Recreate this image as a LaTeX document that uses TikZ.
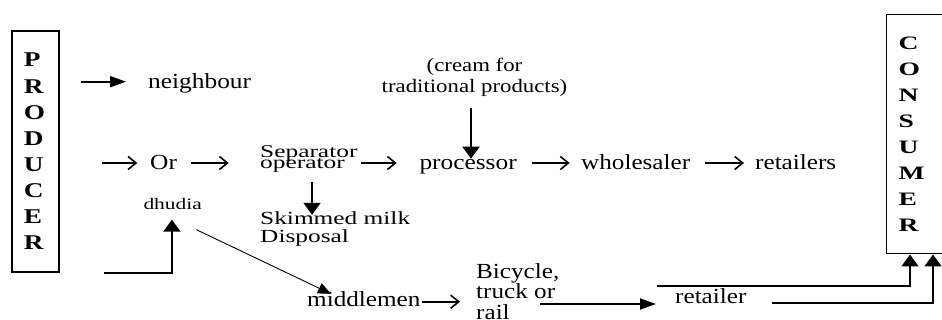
\documentclass[tikz,border=0pt]{standalone}
\usepackage{graphicx}
\usepackage{fontspec}
\setmainfont{Liberation Serif}
\usetikzlibrary{arrows.meta}
\newcommand{\wide}[2]{\scalebox{#1}[1]{#2}}
\newcommand{\tightlines}{\lineskiplimit=-30pt\relax\lineskip=0pt\relax}
\tikzset{
  big/.style={font=\fontsize{21.5}{21.5}\selectfont, inner sep=0pt, anchor=base west},
  fh/.style={line width=2pt, -{Triangle[length=16pt,width=11pt]}},
  fv/.style={line width=2pt, -{Triangle[length=12pt,width=17pt]}},
  fthin/.style={line width=0.9pt, -{Triangle[length=13pt,width=11pt]}},
  ga/.style={line width=1.6pt, -{Straight Barb[length=8pt,width=13pt]}},
  lettersbox/.style={anchor=north west, align=left, inner ysep=0pt}
}
\begin{document}
\begin{tikzpicture}[x=1pt,y=-1pt]
\useasboundingbox (0,0) rectangle (942,320);

% boxes
\node[lettersbox, draw, line width=1.8pt, minimum width=47pt, minimum height=241pt,
      text width=23pt, inner xsep=12pt,
      font=\bfseries\fontsize{21}{26.1}\selectfont] (prod) at (11,30)
  {\wide{1.3}{P}\\\wide{1.3}{R}\\\wide{1.3}{O}\\\wide{1.3}{D}\\\wide{1.3}{U}\\\wide{1.3}{C}\\\wide{1.3}{E}\\\wide{1.3}{R}};
\node[lettersbox, draw, line width=1.2pt, minimum width=80pt, minimum height=239.3pt,
      text width=56pt, inner xsep=12pt,
      font=\bfseries\fontsize{19}{26.1}\selectfont] (cons) at (886,14)
  {\wide{1.45}{C}\\\wide{1.45}{O}\\\wide{1.45}{N}\\\wide{1.45}{S}\\\wide{1.45}{U}\\\wide{1.45}{M}\\\wide{1.45}{E}\\\wide{1.45}{R}};

% text nodes
\node[big] (neigh) at (148,89) {\wide{1.18}{neighbour}};
\node[big] (or) at (150,170) {\wide{1.18}{Or}};
\node[anchor=north west, inner sep=0pt, align=left,
      font=\fontsize{18}{11}\selectfont\tightlines] (sep) at (260,145.1)
  {\wide{1.41}{Separator}\\\wide{1.41}{operator}};
\node[big] (proc) at (419.3,170) {\wide{1.18}{processor}};
\node[big] (whole) at (581,170) {\wide{1.17}{wholesaler}};
\node[big] (rets) at (755,170) {\wide{1.17}{retailers}};
\node[anchor=north, inner sep=0pt, align=center,
      font=\fontsize{19}{21}\selectfont] (cream) at (474.5,57.5)
  {\wide{1.2}{(cream for}\\\wide{1.2}{traditional products)}};
\node[anchor=north west, inner sep=0pt, align=left,
      font=\fontsize{18.5}{17.5}\selectfont] (skim) at (260,211.5)
  {\wide{1.37}{Skimmed milk}\\\wide{1.37}{Disposal}};
\node[anchor=base west, inner sep=0pt, font=\fontsize{16}{16}\selectfont] (dhud) at (143.3,210)
  {\wide{1.34}{dhudia}};
\node[big] (mid) at (307,306.7) {\wide{1.17}{middlemen}};
\node[anchor=north west, inner sep=0pt, align=left,
      font=\fontsize{21.5}{20.6}\selectfont] (bike) at (476,263)
  {\wide{1.17}{Bicycle,}\\\wide{1.17}{truck or}\\\wide{1.17}{rail}};
\node[big] (ret) at (675,304) {\wide{1.17}{retailer}};

% connectors
\draw[fh] ([xshift=21pt,yshift=7.3pt]prod.east |- neigh.base west) -- ([xshift=-22pt,yshift=7.3pt]neigh.base west);
\draw[ga] ([xshift=42.4pt,yshift=7pt]prod.east |- or.base west) -- ([xshift=-12.7pt,yshift=7pt]or.base west);
\draw[ga] ([xshift=14pt,yshift=7pt]or.base east) -- ([xshift=-31.3pt,yshift=7pt]sep.west |- or.base east);
\draw[ga] ([xshift=3pt,yshift=7pt]sep.east |- proc.base west) -- ([xshift=-22.6pt,yshift=7pt]proc.base west);
\draw[ga] ([xshift=15pt,yshift=7pt]proc.base east) -- ([xshift=-11.4pt,yshift=7pt]whole.base west);
\draw[ga] ([xshift=15pt,yshift=7pt]whole.base east) -- ([xshift=-11pt,yshift=7pt]rets.base west);
\draw[fv] ([xshift=-3.5pt,yshift=-12pt]cream.south) -- ([xshift=-3.5pt,yshift=1pt]cream.south |- proc.north);
\draw[fv] ([xshift=3.2pt,yshift=-9.8pt]sep.south) -- ([xshift=3.2pt,yshift=-3.3pt]sep.south |- skim.north);
\draw[fv] ([xshift=44.4pt]prod.south east) -| ([xshift=-0.8pt,yshift=-9.3pt]dhud.south);
\draw[fthin] ([xshift=-5.7pt,yshift=-19.3pt]dhud.south east) -- ([xshift=24pt,yshift=-2.3pt]mid.north west);
\draw[ga] ([xshift=1.3pt,yshift=5pt]mid.base east) -- ([xshift=-16pt,yshift=5pt]bike.west |- mid.base east);
\draw[fh] ([xshift=64pt]bike.west |- ret.base west) -- ([xshift=-19pt]ret.base west);
\draw[fv] ([xshift=-18.3pt,yshift=2.7pt]ret.north west) -| ([xshift=24pt]cons.south west);
\draw[fv] ([xshift=25.3pt,yshift=0.7pt]ret.base east) -| ([xshift=47pt]cons.south west);
\end{tikzpicture}
\end{document}
